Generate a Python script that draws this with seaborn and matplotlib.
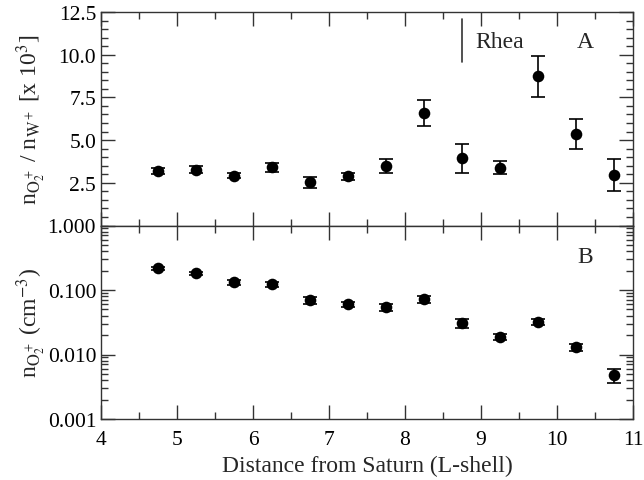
import numpy as np
import pandas as pd
import matplotlib
matplotlib.use("Agg")
import matplotlib.pyplot as plt
import seaborn as sns
from matplotlib.ticker import MultipleLocator, LogLocator, FixedLocator, NullFormatter

# ---- data ----
L_shell = [4.75, 5.25, 5.75, 6.25, 6.75, 7.25, 7.75, 8.25, 8.75, 9.25, 9.75, 10.25, 10.75]
ratio = [3.2, 3.26, 2.91, 3.41, 2.52, 2.87, 3.51, 6.6, 3.94, 3.39, 8.73, 5.35, 2.95]
ratio_err = [0.18, 0.2, 0.15, 0.25, 0.33, 0.2, 0.41, 0.76, 0.85, 0.37, 1.2, 0.9, 0.94]
density = [0.216, 0.181, 0.131, 0.122, 0.069, 0.060, 0.054, 0.072, 0.031, 0.0186, 0.032, 0.013, 0.0048]
density_err = [0.015, 0.012, 0.01, 0.009, 0.008, 0.005, 0.006, 0.008, 0.005, 0.002, 0.003, 0.0015, 0.0012]
rhea_L = 8.75
top_yticks = [2.5, 5.0, 7.5, 10.0, 12.5]
bot_yticks = [0.001, 0.010, 0.100, 1.000]
bot_yticklabels = ["0.001", "0.010", "0.100", "1.000"]
xticks = [4, 5, 6, 7, 8, 9, 10, 11]

df = pd.DataFrame({"L": L_shell, "ratio": ratio, "ratio_err": ratio_err,
                   "dens": density, "dens_err": density_err})

sns.set_theme(style="ticks")
plt.rcParams["font.family"] = ["Liberation Serif", "DejaVu Serif"]
plt.rcParams["mathtext.fontset"] = "stix"

fig = plt.figure(figsize=(6.44, 4.81), dpi=100)
left, right = 101 / 644, 633 / 644
ytop, ymid, ybot = 1 - 13 / 481, 1 - 226.5 / 481, 1 - 420 / 481
ax1 = fig.add_axes([left, ymid, right - left, ytop - ymid])
ax2 = fig.add_axes([left, ybot, right - left, ymid - ybot], sharex=ax1)

spine_col = "#333333"
fs_tick = 15.5
fs_lab = 17

for ax in (ax1, ax2):
    for s in ax.spines.values():
        s.set_color(spine_col)
        s.set_linewidth(1.0)
    ax.tick_params(which="both", direction="in", top=True, right=True,
                   color=spine_col, labelsize=fs_tick, labelcolor="black")
    ax.tick_params(which="major", length=10, width=1.0)
    ax.tick_params(which="minor", length=5, width=1.0)
    ax.tick_params(axis="x", which="major", pad=8)

# top panel
ax1.errorbar(df["L"], df["ratio"], yerr=df["ratio_err"], fmt="none",
             ecolor="black", elinewidth=1.2, capsize=5, capthick=1.2, zorder=2)
sns.scatterplot(data=df, x="L", y="ratio", ax=ax1, color="black", s=70,
                edgecolor="black", linewidth=0, zorder=3, legend=False)
ax1.set_ylim(0, 12.5)
ax1.set_xlim(4, 11)
ax1.yaxis.set_major_locator(FixedLocator(top_yticks))
ax1.yaxis.set_minor_locator(MultipleLocator(0.5))
ax1.set_yticklabels([f"{t:.1f}" for t in top_yticks])
ax1.xaxis.set_major_locator(FixedLocator(xticks))
ax1.xaxis.set_minor_locator(MultipleLocator(0.5))
ax1.tick_params(axis="x", labelbottom=False)
ax1.set_xlabel("")
ax1.set_ylabel(r"n$_{\mathrm{O}_2^+}$ / n$_{\mathrm{W}^+}$ [x 10$^3$]", fontsize=fs_lab)
ax1.plot([rhea_L, rhea_L], [9.6, 12.1], color=spine_col, lw=1.2)
ax1.text(8.92, 10.8, "Rhea", fontsize=fs_lab, va="center", ha="left")
ax1.text(10.37, 10.8, "A", fontsize=fs_lab, va="center", ha="center")

# bottom panel
ax2.errorbar(df["L"], df["dens"], yerr=df["dens_err"], fmt="none",
             ecolor="black", elinewidth=1.2, capsize=5, capthick=1.2, zorder=2)
sns.scatterplot(data=df, x="L", y="dens", ax=ax2, color="black", s=70,
                edgecolor="black", linewidth=0, zorder=3, legend=False)
ax2.set_yscale("log")
ax2.set_ylim(0.001, 1.0)
ax2.yaxis.set_major_locator(FixedLocator(bot_yticks))
ax2.set_yticklabels(bot_yticklabels)
ax2.yaxis.set_minor_locator(LogLocator(base=10, subs=np.arange(2, 10)))
ax2.yaxis.set_minor_formatter(NullFormatter())
ax2.set_xticks(xticks)
ax2.set_xticklabels([str(t) for t in xticks])
ax2.xaxis.set_minor_locator(MultipleLocator(0.5))
ax2.set_xlim(4, 11)
ax2.set_xlabel("Distance from Saturn (L-shell)", fontsize=fs_lab, labelpad=4)
ax2.set_ylabel(r"n$_{\mathrm{O}_2^+}$ (cm$^{-3}$)", fontsize=fs_lab)
ax2.text(10.37, 0.33, "B", fontsize=fs_lab, va="center", ha="center")

ax1.yaxis.set_label_coords(-0.10, 0.5)
ax2.yaxis.set_label_coords(-0.10, 0.5)

fig.savefig("out.png", dpi=100)
